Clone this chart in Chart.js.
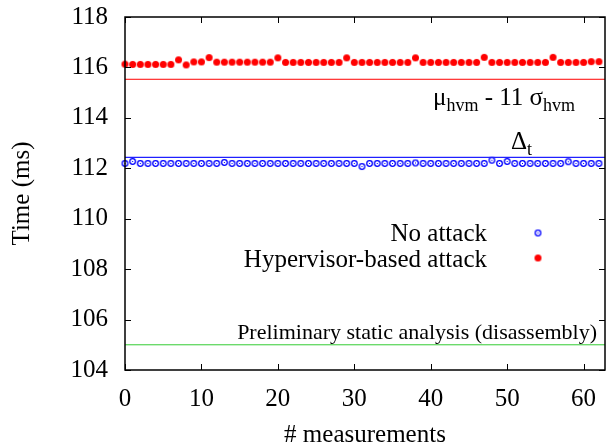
<!DOCTYPE html>
<html>
<head>
<meta charset="utf-8">
<script src="https://cdn.jsdelivr.net/npm/chart.js@4/dist/chart.umd.min.js"></script>
<style>
  html, body { margin: 0; padding: 0; background: #fff; }
  #wrap { width: 610px; height: 445px; }
</style>
</head>
<body>
<div id="wrap"><canvas id="chart" width="610" height="445"></canvas></div>
<script>
// Measurement indices along x
const measurements = [0,1,2,3,4,5,6,7,8,9,10,11,12,13,14,15,16,17,18,19,20,
  21,22,23,24,25,26,27,28,29,30,31,32,33,34,35,36,37,38,39,40,41,42,43,44,45,
  46,47,48,49,50,51,52,53,54,55,56,57,58,59,60,61,62];

// Time (ms) without attack
const noAttack = [112.19,112.27,112.19,112.19,112.19,112.19,112.19,112.19,112.19,112.19,
  112.19,112.19,112.19,112.23,112.19,112.19,112.19,112.19,112.19,112.19,
  112.19,112.19,112.19,112.19,112.19,112.19,112.19,112.19,112.19,112.19,
  112.19,112.07,112.19,112.19,112.19,112.19,112.19,112.19,112.21,112.19,
  112.19,112.19,112.19,112.19,112.19,112.19,112.19,112.19,112.32,112.19,
  112.27,112.19,112.19,112.19,112.19,112.19,112.19,112.19,112.26,112.19,
  112.19,112.19,112.19];

// Time (ms) under hypervisor-based attack
const hvmAttack = [116.13,116.12,116.12,116.12,116.12,116.12,116.12,116.30,116.10,116.22,
  116.22,116.39,116.21,116.21,116.21,116.21,116.21,116.21,116.21,116.21,
  116.38,116.20,116.20,116.20,116.20,116.20,116.20,116.20,116.20,116.38,
  116.20,116.20,116.20,116.20,116.20,116.20,116.20,116.20,116.38,116.20,
  116.20,116.20,116.20,116.20,116.20,116.20,116.20,116.40,116.20,116.20,
  116.20,116.20,116.20,116.20,116.20,116.20,116.40,116.20,116.20,116.20,
  116.20,116.23,116.23];

// Reference levels
const thresholdLevel = 115.53;   // mu_hvm - 11 sigma_hvm
const deltaLevel = 112.43;       // Delta_t
const staticLevel = 105.0;       // preliminary static analysis

const xRange = [0, 62.8];
const xTicks = [0, 10, 20, 30, 40, 50, 60];
const yTicks = [104, 106, 108, 110, 112, 114, 116, 118];

const serif = '"Liberation Serif", "DejaVu Serif", serif';

// gnuplot-like point glyphs
function makeOpenCircle(color) {
  const c = document.createElement('canvas');
  c.width = 9; c.height = 9;
  const g = c.getContext('2d');
  g.strokeStyle = color; g.lineWidth = 1.3;
  g.beginPath(); g.arc(4.5, 4.5, 2.8, 0, Math.PI * 2); g.stroke();
  g.fillStyle = color;
  g.fillRect(4, 4, 1, 1);
  return c;
}
function makeDot(color) {
  const c = document.createElement('canvas');
  c.width = 9; c.height = 9;
  const g = c.getContext('2d');
  g.fillStyle = color;
  g.beginPath(); g.arc(4.5, 4.5, 3.5, 0, Math.PI * 2); g.fill();
  return c;
}
const blueMark = makeOpenCircle('#0000ff');
const redMark = makeDot('#ff0000');

function levelLine(y) {
  return [{ x: xRange[0], y: y }, { x: xRange[1], y: y }];
}

// frame, inward mirrored ticks, labels and key
const decorations = {
  id: 'decorations',
  afterDraw(chart) {
    const ctx = chart.ctx;
    const a = chart.chartArea;
    const xs = chart.scales.x, ys = chart.scales.y;
    ctx.save();
    ctx.strokeStyle = '#000';
    ctx.lineWidth = 1.5;
    ctx.strokeRect(a.left, a.top, a.right - a.left, a.bottom - a.top);
    ctx.lineWidth = 1;
    const tl = 6;
    ctx.beginPath();
    xTicks.forEach(v => {
      const px = Math.round(xs.getPixelForValue(v)) + 0.5;
      ctx.moveTo(px, a.bottom); ctx.lineTo(px, a.bottom - tl);
      ctx.moveTo(px, a.top); ctx.lineTo(px, a.top + tl);
    });
    yTicks.forEach(v => {
      const py = Math.round(ys.getPixelForValue(v)) + 0.5;
      ctx.moveTo(a.left, py); ctx.lineTo(a.left + tl, py);
      ctx.moveTo(a.right, py); ctx.lineTo(a.right - tl, py);
    });
    ctx.stroke();

    ctx.fillStyle = '#000';
    ctx.textBaseline = 'alphabetic';

    // mu_hvm - 11 sigma_hvm, right of centre under the red line
    let x = 433;
    const yb = ys.getPixelForValue(thresholdLevel) + 26;
    const parts = [
      ['\u03bc', 25, 0], ['hvm', 18, 6], [' - 11 \u03c3', 25, 0], ['hvm', 18, 6]
    ];
    ctx.textAlign = 'left';
    parts.forEach(([t, s, dy]) => {
      ctx.font = s + 'px ' + serif;
      ctx.fillText(t, x, yb + dy);
      x += ctx.measureText(t).width;
    });

    // Delta_t above blue line
    const yd = ys.getPixelForValue(deltaLevel) - 8;
    ctx.font = '25px ' + serif;
    ctx.fillText('\u0394', 511, yd);
    const dw = ctx.measureText('\u0394').width;
    ctx.font = '18px ' + serif;
    ctx.fillText('t', 511 + dw, yd + 6);

    // static analysis label
    ctx.font = '22px ' + serif;
    ctx.textAlign = 'right';
    ctx.fillText('Preliminary static analysis (disassembly)', 597, ys.getPixelForValue(staticLevel) - 6);

    // key
    ctx.font = '25px ' + serif;
    ctx.textBaseline = 'middle';
    ctx.fillText('No attack', 487, 234);
    ctx.fillText('Hypervisor-based attack', 487, 260);
    ctx.drawImage(blueMark, 538 - 4.5, 233 - 4.5);
    ctx.drawImage(redMark, 538 - 4.5, 258 - 4.5);
    ctx.restore();
  }
};

new Chart(document.getElementById('chart').getContext('2d'), {
  type: 'scatter',
  data: {
    datasets: [
      {
        type: 'line', data: levelLine(thresholdLevel),
        borderColor: '#ff0000', borderWidth: 1, pointRadius: 0
      },
      {
        type: 'line', data: levelLine(deltaLevel),
        borderColor: '#2020ff', borderWidth: 1.2, pointRadius: 0
      },
      {
        type: 'line', data: levelLine(staticLevel),
        borderColor: '#33cc33', borderWidth: 1, pointRadius: 0
      },
      {
        label: 'Hypervisor-based attack',
        data: measurements.map((m, i) => ({ x: m, y: hvmAttack[i] })),
        pointStyle: redMark, clip: false
      },
      {
        label: 'No attack',
        data: measurements.map((m, i) => ({ x: m, y: noAttack[i] })),
        pointStyle: blueMark, clip: false
      }
    ]
  },
  options: {
    responsive: false,
    animation: false,
    events: [],
    layout: { padding: { top: 17, right: 1, left: 0, bottom: 0 } },
    plugins: { legend: { display: false }, tooltip: { enabled: false } },
    scales: {
      x: {
        type: 'linear', min: xRange[0], max: xRange[1],
        afterBuildTicks: s => { s.ticks = xTicks.map(v => ({ value: v })); },
        afterFit: s => { s.height = 75; s.paddingLeft = 0; s.paddingRight = 0; },
        grid: { display: false, drawTicks: false },
        border: { display: false },
        ticks: { color: '#000', font: { family: serif, size: 25 }, padding: 14, maxRotation: 0 },
        title: {
          display: true, text: '# measurements', color: '#000',
          font: { family: serif, size: 25, lineHeight: 0.8 }, padding: { top: 0, bottom: 0 }
        }
      },
      y: {
        min: 104, max: 118,
        afterBuildTicks: s => { s.ticks = yTicks.map(v => ({ value: v })); },
        afterFit: s => { s.width = 125; s.paddingTop = 0; s.paddingBottom = 0; },
        grid: { display: false, drawTicks: false },
        border: { display: false },
        ticks: { color: '#000', font: { family: serif, size: 25 }, padding: 17 },
        title: {
          display: true, text: 'Time (ms)', color: '#000',
          font: { family: serif, size: 25, lineHeight: 1.2 }, padding: { top: 7, bottom: 0 }
        }
      }
    }
  },
  plugins: [decorations]
});
</script>
</body>
</html>
